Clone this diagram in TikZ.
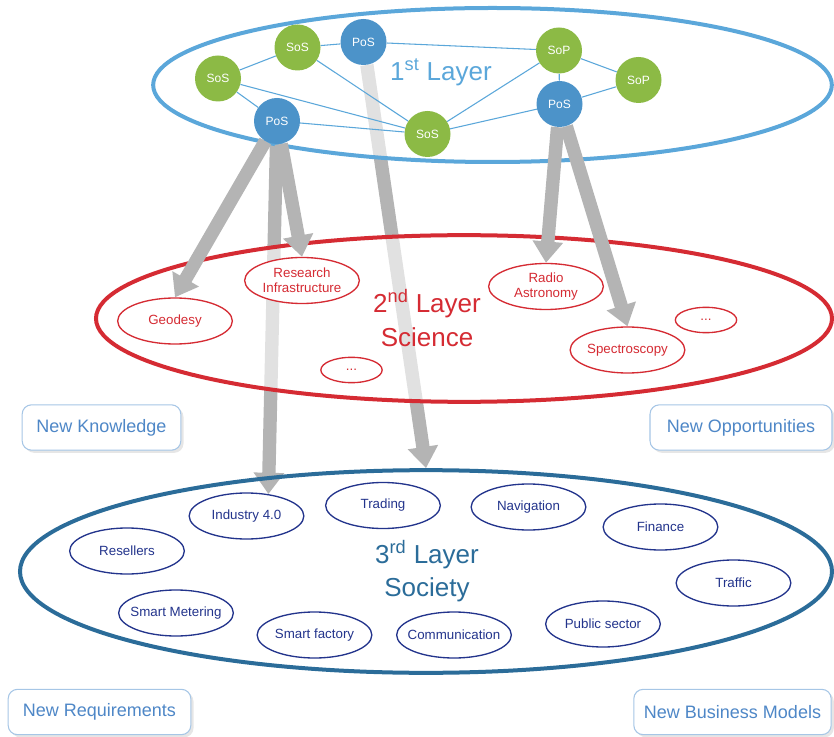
\documentclass[tikz,border=0pt]{standalone}
\usepackage{fontspec}
\setmainfont{Liberation Sans}
\usetikzlibrary{shapes, arrows.meta, backgrounds, shadows}
\pgfdeclarelayer{deep}
\pgfsetlayers{deep,background,main}
\definecolor{layerone}{RGB}{91,167,218}
\definecolor{posblue}{RGB}{76,147,201}
\definecolor{sosgreen}{RGB}{140,186,69}
\definecolor{sciencered}{RGB}{213,43,51}
\definecolor{societyblue}{RGB}{43,108,153}
\definecolor{sectornavy}{RGB}{35,52,140}
\definecolor{boxedge}{RGB}{166,198,230}
\definecolor{boxtext}{RGB}{78,135,199}
\definecolor{arrowgray}{RGB}{180,180,180}

\begin{document}
\begin{tikzpicture}[x=0.75pt,y=-0.75pt]
\tikzstyle{sosnode} = [circle, fill=sosgreen, text=white, minimum size=34.5pt, inner sep=0pt, font=\fontsize{9}{10}\selectfont]
\tikzstyle{posnode} = [sosnode, fill=posblue]
\tikzstyle{layerring} = [ellipse, line width=3pt, inner sep=0pt]
\tikzstyle{layertitle} = [align=center, font=\fontsize{19.5}{25}\selectfont]
\tikzstyle{field} = [ellipse, draw=sciencered, fill=white, text=sciencered, line width=1pt, minimum width=86pt, minimum height=34.5pt, inner xsep=-9pt, inner ysep=0pt, align=center, font=\fontsize{10}{11}\selectfont]
\tikzstyle{morefield} = [field, minimum width=46pt, minimum height=19pt]
\tikzstyle{sector} = [field, draw=sectornavy, text=sectornavy]
\tikzstyle{outcome} = [rectangle, rounded corners=7pt, draw=boxedge, line width=0.8pt, fill=white, text=boxtext, minimum height=34pt, font=\fontsize{13.5}{16}\selectfont, drop shadow={shadow xshift=2pt, shadow yshift=-2pt, opacity=0.2}]
\tikzstyle{bigarrow} = [line width=10pt, draw=arrowgray, -{Triangle[length=16pt,width=22pt]}]
\tikzstyle{link} = [draw=layerone, line width=0.8pt]

\useasboundingbox (0,0) rectangle (834,737);

\begin{pgfonlayer}{background}
\node [layerring, draw=layerone, fill=white, fill opacity=0.6, minimum width=509pt, minimum height=115.5pt] (layer1) at (492.5,85) {};
\node [layerring, draw=sciencered, fill=white, fill opacity=0.6, minimum width=552pt, minimum height=125pt] (layer2) at (464,318.5) {};
\node [layerring, draw=societyblue, minimum width=609pt, minimum height=152pt] (layer3) at (426,571.5) {};
\end{pgfonlayer}

\node [layertitle, text=layerone] (title1) at (441,72) {1\textsuperscript{st} Layer};
\node [layertitle, text=sciencered] (title2) at (427,318) {2\textsuperscript{nd} Layer\\Science};
\node [layertitle, text=societyblue] (title3) at (427,571) {3\textsuperscript{rd} Layer\\Society};

\node [sosnode] (sosA) at (297.5,47.5) {SoS};
\node [posnode] (posT) at (363.5,42) {PoS};
\node [sosnode] (sosB) at (218,78.5) {SoS};
\node [posnode] (posL) at (277,121) {PoS};
\node [sosnode] (sosC) at (427.5,134) {SoS};
\node [sosnode] (sopA) at (559,50.5) {SoP};
\node [sosnode] (sopB) at (638.5,80) {SoP};
\node [posnode] (posR) at (559.5,104) {PoS};

\draw [link] (sosB) -- (sosA);
\draw [link] (sosA) -- (posT);
\draw [link] (posT) -- (sopA);
\draw [link] (sosA) -- (sosC);
\draw [link] (sosB) -- (sosC);
\draw [link] (sosB) -- (posL);
\draw [link] (posL) -- (sosC);
\draw [link] (sosC) -- (sopA);
\draw [link] (sosC) -- (posR);
\draw [link] (sopA) -- (sopB);
\draw [link] (sopA) -- (posR);
\draw [link] (posR) -- (sopB);

\node [field] (research) at (302,280.5) {Research\\Infrastructure};
\node [field] (geodesy) at (175,321) {Geodesy};
\node [field] (radio) at (546,286.5) {Radio\\Astronomy};
\node [field] (spectro) at (627.5,350) {Spectroscopy};
\node [morefield] (moreR) at (706,320) {...};
\node [morefield] (moreL) at (351.5,370) {...};

\node [sector] (industry) at (246.5,516) {Industry 4.0};
\node [sector] (trading) at (383,505.5) {Trading};
\node [sector] (navigation) at (528.5,507) {Navigation};
\node [sector] (finance) at (660.5,527) {Finance};
\node [sector] (resellers) at (127,551) {Resellers};
\node [sector] (traffic) at (733.5,583) {Traffic};
\node [sector] (metering) at (176,613) {Smart Metering};
\node [sector] (factory) at (314.5,635) {Smart factory};
\node [sector] (communication) at (454,635) {Communication};
\node [sector] (public) at (603,624) {Public sector};

\node [outcome, minimum width=119pt] (knowledge) at (101.5,427.5) {New Knowledge};
\node [outcome, minimum width=136.5pt] (opportunities) at (741,427.5) {New Opportunities};
\node [outcome, minimum width=137pt] (requirements) at (99.5,712) {New Requirements};
\node [outcome, minimum width=148pt] (business) at (732.5,712) {New Business Models};

\begin{pgfonlayer}{deep}
\draw [bigarrow] (posT) -- (layer3.north);
\draw [bigarrow] (posL) -- (industry.45);
\end{pgfonlayer}

\begin{pgfonlayer}{background}
\draw [bigarrow] (posL) -- (geodesy.north);
\draw [bigarrow] (posL) -- (research.north);
\draw [bigarrow] (posR) -- (radio.north);
\draw [bigarrow] (posR) -- (spectro.north);
\end{pgfonlayer}
\end{tikzpicture}
\end{document}
